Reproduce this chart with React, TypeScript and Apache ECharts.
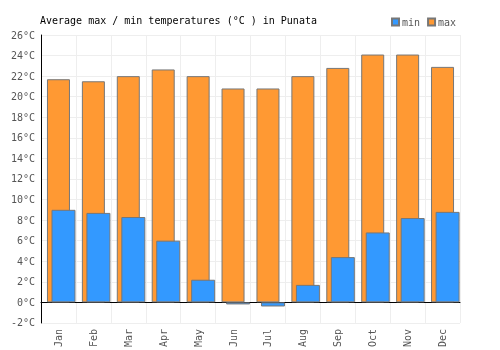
import React, { useEffect, useRef } from "react";
import * as echarts from "echarts";

const months = ["Jan", "Feb", "Mar", "Apr", "May", "Jun", "Jul", "Aug", "Sep", "Oct", "Nov", "Dec"];
const maxTemps = [21.7, 21.5, 22.0, 22.65, 22.0, 20.8, 20.8, 22.0, 22.8, 24.1, 24.1, 22.9];
const minTemps = [9.0, 8.7, 8.3, 6.0, 2.2, -0.2, -0.4, 1.7, 4.4, 6.8, 8.2, 8.8];
const titleText = "Average max / min temperatures (°C ) in Punata";

const FONT = "DejaVu Sans Mono";

export default function App() {
  const ref = useRef<HTMLDivElement>(null);
  useEffect(() => {
    if (!ref.current) return;
    const chart = echarts.init(ref.current, undefined, { renderer: "svg" });
    chart.setOption({
      animation: false,
      title: {
        text: titleText,
        left: 35,
        top: 10,
        textStyle: { fontFamily: FONT, fontSize: 10, fontWeight: "normal", color: "#000" },
      },
      legend: {
        data: ["min", "max"],
        left: 386,
        top: 12,
        itemWidth: 7,
        itemHeight: 7,
        itemGap: 7,
        icon: "rect",
        textStyle: { fontFamily: FONT, fontSize: 10, color: "#555", padding: [0, 0, 0, -2] },
      },
      grid: { left: 41, right: 40, top: 35, bottom: 25, containLabel: false },
      xAxis: [
        {
          type: "category",
          data: months,
          axisLine: { onZero: true, lineStyle: { color: "#000", width: 1 } },
          axisTick: { show: false },
          splitLine: { show: true, lineStyle: { color: "#eee", width: 1 } },
          axisLabel: {
            rotate: 90,
            margin: 6,
            fontFamily: FONT,
            fontSize: 10,
            color: "#555",
            interval: 0,
          },
        },
        {
          type: "category",
          data: months,
          show: false,
        },
      ],
      yAxis: {
        type: "value",
        min: -2,
        max: 26,
        interval: 2,
        axisLine: { show: true, lineStyle: { color: "#000", width: 1 } },
        axisTick: { show: false },
        splitLine: { show: true, lineStyle: { color: "#eee", width: 1 } },
        axisLabel: {
          formatter: "{value}°C",
          fontFamily: FONT,
          fontSize: 10,
          color: "#555",
          margin: 6,
        },
      },
      series: [
        {
          name: "max",
          type: "bar",
          xAxisIndex: 0,
          data: maxTemps,
          barWidth: 23,
          itemStyle: { color: "#ff9933", borderColor: "#777", borderWidth: 1 },
        },
        {
          name: "spacer",
          type: "bar",
          xAxisIndex: 1,
          data: [],
          barWidth: 24,
          barGap: "-58%",
        },
        {
          name: "min",
          type: "bar",
          xAxisIndex: 1,
          data: minTemps,
          barWidth: 24,
          barGap: "-58%",
          itemStyle: { color: "#3399ff", borderColor: "#777", borderWidth: 1 },
        },
      ],
    });
    return () => chart.dispose();
  }, []);
  return <div ref={ref} style={{ position: "fixed", left: 0, top: 0, width: 500, height: 350 }} />;
}
